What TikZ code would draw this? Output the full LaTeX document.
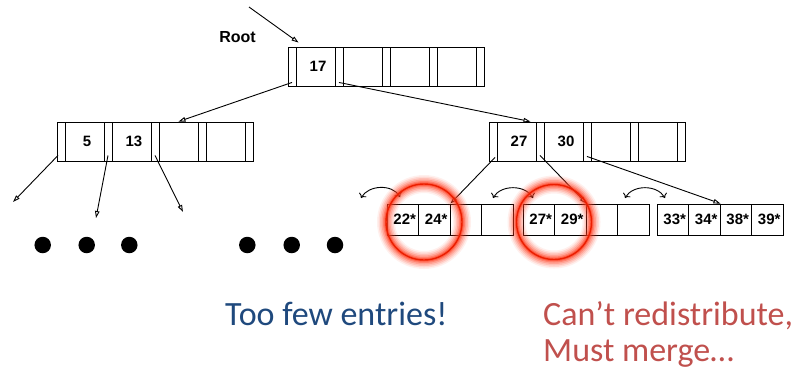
\documentclass[tikz,border=0pt]{standalone}
\usepackage{fontspec}
\setmainfont{Liberation Sans}
\newfontfamily\notefont{Carlito}
\usetikzlibrary{arrows.meta}

\definecolor{noteblue}{RGB}{31,73,125}
\definecolor{notered}{RGB}{192,80,77}
\definecolor{ringcore}{RGB}{235,30,0}
\definecolor{ringglow}{RGB}{255,60,30}

\tikzset{
  cellbase/.style={draw, line width=0.9pt, inner sep=0pt, minimum height=39pt},
  slotbox/.style={cellbase, minimum width=8pt},
  keybox/.style={cellbase, minimum width=39pt, font=\bfseries\fontsize{15}{15}\selectfont},
  leafcell/.style={draw, line width=0.9pt, inner sep=0pt, minimum width=31.5pt,
    minimum height=31pt, font=\bfseries\fontsize{15}{15}\selectfont},
  ptr/.style={line width=0.9pt, -{Triangle[open,length=7pt,width=4.5pt]}},
  sib/.style={line width=0.9pt, {To[length=4pt]}-{To[length=4pt]}},
  dot/.style={circle, fill=black, inner sep=0pt, minimum size=16.5pt},
  note/.style={anchor=base west, inner sep=0pt, font=\notefont\fontsize{34}{36}\selectfont},
}

% index node: name, left x, top y, four keys (slots s1..s5, keys k1..k4)
\newcommand{\indexnode}[7]{%
  \foreach \i/\key in {1/#4,2/#5,3/#6,4/#7} {
    \node[slotbox] (#1-s\i) at ({#2+4+(\i-1)*47},{#3+19.5}) {};
    \node[keybox] (#1-k\i) at ({#2+27.5+(\i-1)*47},{#3+19.5}) {\hspace*{5pt}\key};
  }
  \node[slotbox] (#1-s5) at ({#2+192},{#3+19.5}) {};
}

% leaf page: name, left x, four entries (cells c1..c4)
\newcommand{\leafnode}[6]{%
  \foreach \i/\key in {1/#3,2/#4,3/#5,4/#6}
    \node[leafcell] (#1-c\i) at ({#2+15.75+(\i-1)*31.5},219.5) {\hspace*{4pt}\key};
}

% highlighted ring with a soft glow
\newcommand{\glowring}[3]{%
  \foreach \w/\o in {18/0.08,15/0.12,12/0.16,9/0.22,6/0.32,3.5/0.5}
    \draw[ringglow, opacity=\o, line width=\w pt] (#1,#2) circle[radius=#3pt];
  \draw[ringcore, line width=1.4pt] (#1,#2) circle[radius=#3pt];
}

\begin{document}
\begin{tikzpicture}[x=1pt, y=-1pt]
\useasboundingbox (0,0) rectangle (798,373);

% index levels
\indexnode{root}{288}{47}{17}{{}}{{}}{{}}
\indexnode{left}{57}{122}{5}{13}{{}}{{}}
\indexnode{right}{489}{122}{27}{30}{{}}{{}}

\node[font=\bfseries\fontsize{16}{16}\selectfont] (rootlabel) at (237.5,37) {Root};
\coordinate (rootin) at (249,7);
\draw[ptr] (rootin) -- ([xshift=3pt,yshift=4pt]root-k1.north west);

% leaf level
\leafnode{leafa}{387}{22*}{24*}{{}}{{}}
\leafnode{leafb}{523}{27*}{29*}{{}}{{}}
\leafnode{leafc}{657}{33*}{34*}{38*}{39*}

% pointers from the root
\draw[ptr] ([yshift=4pt]root-s1.south) -- (left-k3.north);
\draw[ptr] ([yshift=4pt]root-s2.south) -- ([xshift=14pt]right-k1.north);

% pointers from the left index node
\coordinate (lt1) at (13,202);
\coordinate (lt2) at (96,218);
\coordinate (lt3) at (183,212);
\draw[ptr] ([xshift=-3pt,yshift=6pt]left-s1.south) -- (lt1);
\draw[ptr] ([yshift=6pt]left-s2.south) -- (lt2);
\draw[ptr] ([yshift=6pt]left-s3.south) -- (lt3);

% pointers from the right index node
\draw[ptr] ([xshift=2pt,yshift=4pt]right-s1.south) -- (leafa-c2.north east);
\draw[ptr] ([yshift=6pt]right-s2.south) -- (leafb-c2.north east);
\draw[ptr] ([yshift=5pt]right-s3.south) -- (leafc-c2.north east);

% sibling links between leaves
\coordinate (sa1) at (361,198);
\coordinate (sa2) at (400,197);
\coordinate (sb1) at (493,198);
\coordinate (sb2) at (533,198);
\coordinate (sc1) at (625,198);
\coordinate (sc2) at (665,198);
\draw[sib] (sa1) to[out=60,in=120] (sa2);
\draw[sib] (sb1) to[out=60,in=120] (sb2);
\draw[sib] (sc1) to[out=60,in=120] (sc2);

% elided subtrees
\foreach \x [count=\n] in {42.7,86.7,129.3,247.3,291.7,335}
  \node[dot] (dot\n) at (\x,245) {};

% underfull leaves
\glowring{424}{222}{38}
\glowring{554}{222}{37.5}

% notes
\node[note, text=noteblue] (fewnote) at (225,325.7) {Too few entries!};
\node[note, text=notered] (mergenote1) at (543,325.7) {Can’t redistribute,};
\node[note, text=notered] (mergenote2) at (543,361.7) {Must merge…};
\end{tikzpicture}
\end{document}
